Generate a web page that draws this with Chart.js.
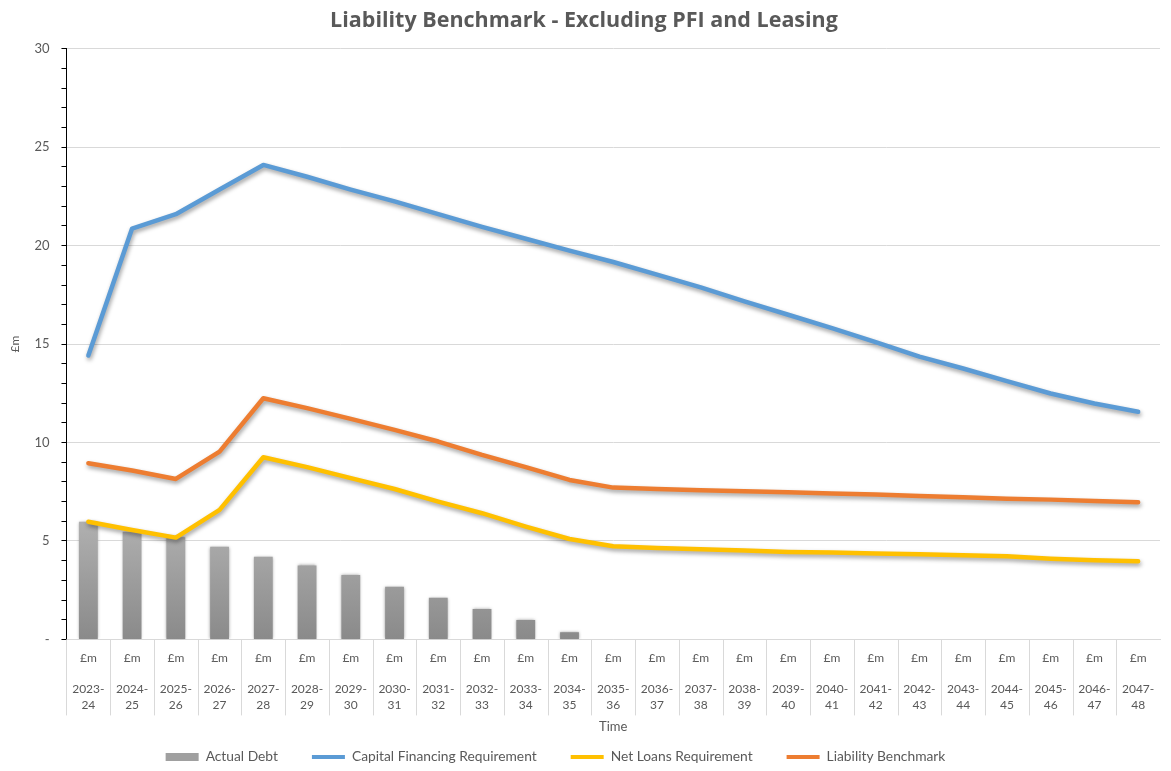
<!DOCTYPE html>
<html>
<head>
<meta charset="utf-8">
<script src="https://cdn.jsdelivr.net/npm/chart.js@4.4.1/dist/chart.umd.min.js"></script>
<style>
  html, body { margin: 0; padding: 0; background: #ffffff; }
  #wrap { width: 1171px; height: 771px; }
</style>
</head>
<body>
<div id="wrap"><canvas id="c" width="1171" height="771"></canvas></div>
<script>
// ---- data ----
const chartTitle = 'Liability Benchmark - Excluding PFI and Leasing';
const unitLabel = '£m';
const xTitle = 'Time';
const yTitle = '£m';
const categories = ['2023-24','2024-25','2025-26','2026-27','2027-28','2028-29','2029-30','2030-31',
  '2031-32','2032-33','2033-34','2034-35','2035-36','2036-37','2037-38','2038-39','2039-40',
  '2040-41','2041-42','2042-43','2043-44','2044-45','2045-46','2046-47','2047-48'];
const actualDebt = [5.98, 5.47, 5.19, 4.71, 4.20, 3.76, 3.27, 2.68, 2.12, 1.54, 0.98, 0.36,
  0, 0, 0, 0, 0, 0, 0, 0, 0, 0, 0, 0, 0];
const capitalFinancingRequirement = [14.42, 20.87, 21.60, 22.85, 24.10, 23.50, 22.85, 22.25, 21.60,
  20.95, 20.35, 19.75, 19.17, 18.53, 17.88, 17.17, 16.49, 15.81, 15.10, 14.36, 13.76, 13.12,
  12.49, 11.98, 11.56];
const netLoansRequirement = [5.98, 5.56, 5.17, 6.58, 9.25, 8.75, 8.19, 7.64, 7.00, 6.41, 5.73,
  5.10, 4.73, 4.64, 4.58, 4.51, 4.44, 4.41, 4.36, 4.32, 4.27, 4.22, 4.10, 4.02, 3.97];
const liabilityBenchmark = [8.95, 8.58, 8.15, 9.54, 12.25, 11.75, 11.20, 10.64, 10.05, 9.37, 8.75,
  8.10, 7.71, 7.64, 7.58, 7.53, 7.47, 7.41, 7.36, 7.29, 7.22, 7.15, 7.10, 7.03, 6.97];
const yMin = 0, yMax = 30, yMajor = 5, yMinor = 1;

// ---- build ----
const xLabels = categories.map(c => {
  const parts = c.split('-');
  return [unitLabel, '', parts[0] + '-', parts[1]];
});

const FONT = 'Lato, "Open Sans", sans-serif';
const TXT = '#595959';
const TICK_PAD = 3;
const TICK_LINE = 15.5;

const effectsPlugin = {
  id: 'effects',
  beforeDatasetDraw(chart, args) {
    const ctx = chart.ctx;
    ctx.save();
    const ds = chart.data.datasets[args.index];
    if (ds.type === 'line') {
      ctx.shadowColor = 'rgba(0,0,0,0.38)';
      ctx.shadowBlur = 4;
      ctx.shadowOffsetX = 1;
      ctx.shadowOffsetY = 2.5;
    } else {
      ctx.shadowColor = 'rgba(140,140,140,0.9)';
      ctx.shadowBlur = 3;
    }
  },
  afterDatasetDraw(chart) {
    chart.ctx.restore();
  }
};

const separatorPlugin = {
  id: 'separators',
  afterDraw(chart) {
    const xs = chart.scales.x;
    const ctx = chart.ctx;
    const n = chart.data.labels.length;
    const half = (xs.right - xs.left) / n / 2;
    const top = xs.top;
    const bottom = xs.top + TICK_PAD + 4 * TICK_LINE + 11;
    ctx.save();
    ctx.strokeStyle = '#d9d9d9';
    ctx.lineWidth = 1;
    for (let i = 0; i < n; i++) {
      const x = Math.round(xs.getPixelForValue(i) - half) + 0.5;
      ctx.beginPath();
      ctx.moveTo(x, top);
      ctx.lineTo(x, bottom);
      ctx.stroke();
    }
    ctx.restore();
  }
};

// custom bottom legend (Excel-style spacing)
const legendPlugin = {
  id: 'customLegend',
  afterDraw(chart) {
    const ctx = chart.ctx;
    const swatch = 33, gapText = 7, gapItem = 34;
    ctx.save();
    ctx.font = '13.8px ' + FONT;
    ctx.textBaseline = 'middle';
    const items = chart.data.datasets.map(ds => ({
      ds, w: swatch + gapText + ctx.measureText(ds.label).width
    }));
    const total = items.reduce((s, it) => s + it.w, 0) + gapItem * (items.length - 1);
    let x = chart.width / 2 - 30 - total / 2;
    const y = chart.height - 14;
    items.forEach(it => {
      const ds = it.ds;
      if (ds.type === 'bar') {
        ctx.fillStyle = '#a0a0a0';
        ctx.fillRect(x, y - 4, swatch, 8);
      } else {
        ctx.strokeStyle = ds.borderColor;
        ctx.lineWidth = 4;
        ctx.beginPath();
        ctx.moveTo(x, y);
        ctx.lineTo(x + swatch, y);
        ctx.stroke();
      }
      ctx.fillStyle = TXT;
      ctx.fillText(ds.label, x + swatch + gapText, y);
      x += it.w + gapItem;
    });
    ctx.restore();
  }
};

const ctx = document.getElementById('c').getContext('2d');
new Chart(ctx, {
  data: {
    labels: xLabels,
    datasets: [
      {
        type: 'bar', label: 'Actual Debt', data: actualDebt, order: 5,
        backgroundColor(c) {
          const a = c.chart.chartArea;
          if (!a) return '#a5a5a5';
          const g = c.chart.ctx.createLinearGradient(0, a.top + a.height * 0.8, 0, a.bottom);
          g.addColorStop(0, '#b0b0b0');
          g.addColorStop(1, '#8a8a8a');
          return g;
        },
        barPercentage: 0.43, categoryPercentage: 1.0
      },
      {
        type: 'line', label: 'Capital Financing Requirement', data: capitalFinancingRequirement, order: 1,
        borderColor: '#5b9bd5', borderWidth: 4.5, pointRadius: 0, tension: 0,
        borderJoinStyle: 'round', borderCapStyle: 'round', fill: false
      },
      {
        type: 'line', label: 'Net Loans Requirement', data: netLoansRequirement, order: 1,
        borderColor: '#ffc000', borderWidth: 4.5, pointRadius: 0, tension: 0,
        borderJoinStyle: 'round', borderCapStyle: 'round', fill: false
      },
      {
        type: 'line', label: 'Liability Benchmark', data: liabilityBenchmark, order: 1,
        borderColor: '#ed7d31', borderWidth: 4.5, pointRadius: 0, tension: 0,
        borderJoinStyle: 'round', borderCapStyle: 'round', fill: false
      }
    ]
  },
  options: {
    responsive: false,
    animation: false,
    devicePixelRatio: 1,
    layout: { padding: { left: 8, right: 11, top: 0, bottom: 36 } },
    plugins: {
      title: {
        display: true, text: chartTitle, color: TXT,
        font: { family: '"Open Sans", sans-serif', size: 21.5, weight: 'bold' },
        padding: { top: 8, bottom: 15 }
      },
      legend: { display: false },
      tooltip: { enabled: false }
    },
    scales: {
      x: {
        offset: true,
        grid: { display: false },
        border: { display: true, color: '#d9d9d9', width: 1 },
        ticks: {
          color: TXT, font: { family: FONT, size: 12, lineHeight: TICK_LINE / 12 },
          padding: TICK_PAD, maxRotation: 0, autoSkip: false
        },
        title: {
          display: true, text: xTitle, color: TXT,
          font: { family: FONT, size: 13 }, padding: { top: 4, bottom: 0 }
        }
      },
      y: {
        min: yMin, max: yMax,
        grid: {
          color: c => (c.tick && c.tick.value % yMajor === 0) ? '#d9d9d9' : 'rgba(0,0,0,0)',
          tickColor: '#000000', tickLength: 5, lineWidth: 1
        },
        border: { display: true, color: '#000000', width: 1 },
        ticks: {
          stepSize: yMinor, autoSkip: false, color: TXT, padding: 12,
          font: { family: FONT, size: 13 },
          callback: v => (v % yMajor === 0) ? (v === 0 ? '-' : String(v)) : ''
        },
        title: {
          display: true, text: yTitle, color: TXT,
          font: { family: FONT, size: 12 }, padding: { top: 0, bottom: 0 }
        }
      }
    }
  },
  plugins: [effectsPlugin, separatorPlugin, legendPlugin]
});
</script>
</body>
</html>
